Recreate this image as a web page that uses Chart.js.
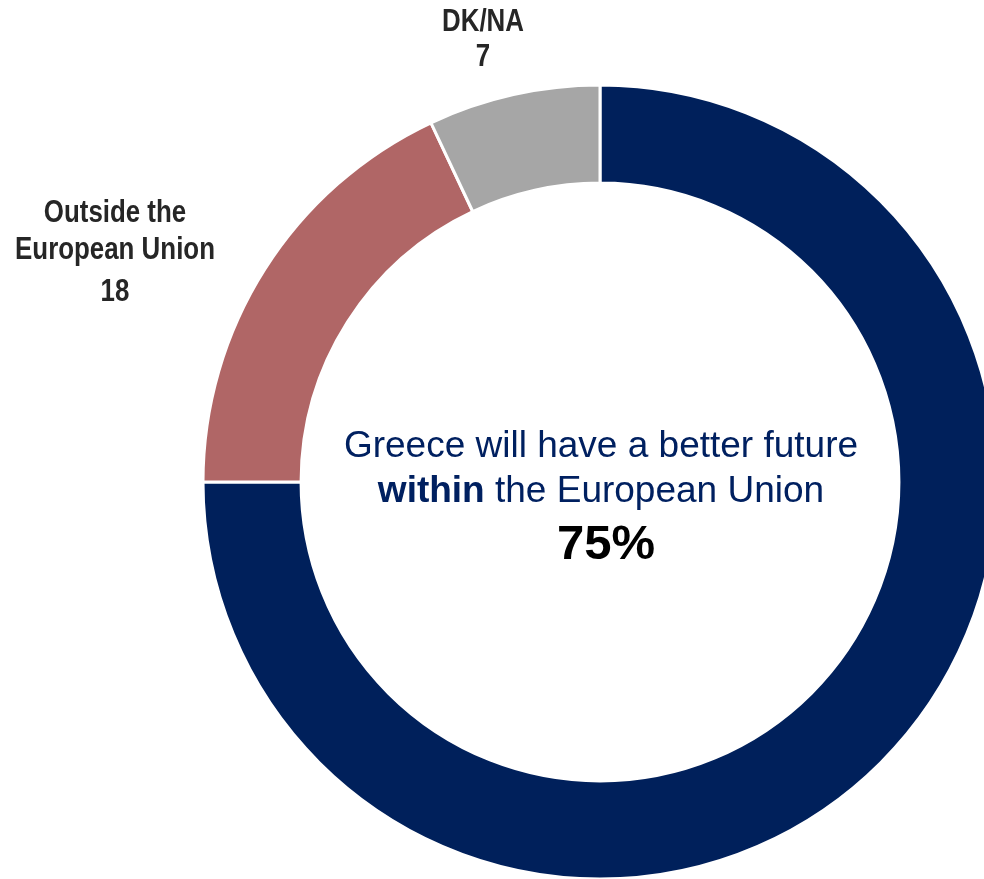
<!DOCTYPE html>
<html><head><meta charset="utf-8">
<script src="https://cdn.jsdelivr.net/npm/chart.js@4"></script>
<style>html,body{margin:0;padding:0;overflow:hidden;background:#fff;width:984px;height:879px}
#wrap{position:absolute;left:0;top:0;width:1100px;height:1000px}</style>
</head><body>
<div id="wrap"><canvas id="c" width="1100" height="1000"></canvas></div>
<script>
const categories = ["Within the European Union", "Outside the European Union", "DK/NA"];
const values = [75, 18, 7];
const colors = ["#00205B", "#B06666", "#A6A6A6"];
const centerLines = ["Greece will have a better future", "within", " the European Union"];
const centerValue = "75%";

const sans = "'Liberation Sans', Arial, sans-serif";

function narrowText(ctx, text, x, y, sx) {
  ctx.save();
  ctx.translate(x, y);
  ctx.scale(sx, 1);
  ctx.fillText(text, 0, 0);
  ctx.restore();
}

const labelsPlugin = {
  id: 'labels',
  afterDraw(chart) {
    const ctx = chart.ctx;
    const meta = chart.getDatasetMeta(0);
    const arc = meta.data[0];
    const cx = arc.x, cy = arc.y;
    ctx.save();
    ctx.textAlign = 'center';
    ctx.textBaseline = 'middle';
    // outside labels
    ctx.fillStyle = '#262626';
    ctx.font = "bold 31px " + sans;
    const sx = 0.835;
    narrowText(ctx, "DK/NA", cx - 117, cy - 460, sx);
    narrowText(ctx, String(values[2]), cx - 117, cy - 425, sx);
    narrowText(ctx, "Outside the", cx - 485, cy - 269, sx);
    narrowText(ctx, "European Union", cx - 485, cy - 232, sx);
    narrowText(ctx, String(values[1]), cx - 485, cy - 190, sx);
    // center text
    const fs = 37;
    ctx.fillStyle = '#002060';
    ctx.font = fs + "px " + sans;
    ctx.fillText(centerLines[0], cx + 1, cy - 35);
    ctx.font = "bold " + fs + "px " + sans;
    const w1 = ctx.measureText(centerLines[1]).width;
    ctx.font = fs + "px " + sans;
    const w2 = ctx.measureText(centerLines[2]).width;
    const x0 = cx + 1 - (w1 + w2) / 2;
    ctx.textAlign = 'left';
    ctx.font = "bold " + fs + "px " + sans;
    ctx.fillText(centerLines[1], x0, cy + 10);
    ctx.font = fs + "px " + sans;
    ctx.fillText(centerLines[2], x0 + w1, cy + 10);
    ctx.textAlign = 'center';
    ctx.fillStyle = '#000000';
    ctx.font = "bold 49px " + sans;
    ctx.fillText(centerValue, cx + 6, cy + 63);
    ctx.restore();
  }
};

new Chart(document.getElementById('c'), {
  type: 'doughnut',
  data: {
    labels: categories,
    datasets: [{
      data: values,
      backgroundColor: colors,
      borderColor: '#ffffff',
      borderWidth: 3,
      hoverOffset: 0
    }]
  },
  options: {
    responsive: false,
    animation: false,
    cutout: '75.3%',
    layout: { padding: { left: 201.5, right: 101.5, top: 83.5, bottom: 119.5 } },
    plugins: { legend: { display: false }, tooltip: { enabled: false } }
  },
  plugins: [labelsPlugin]
});
</script>
</body></html>
